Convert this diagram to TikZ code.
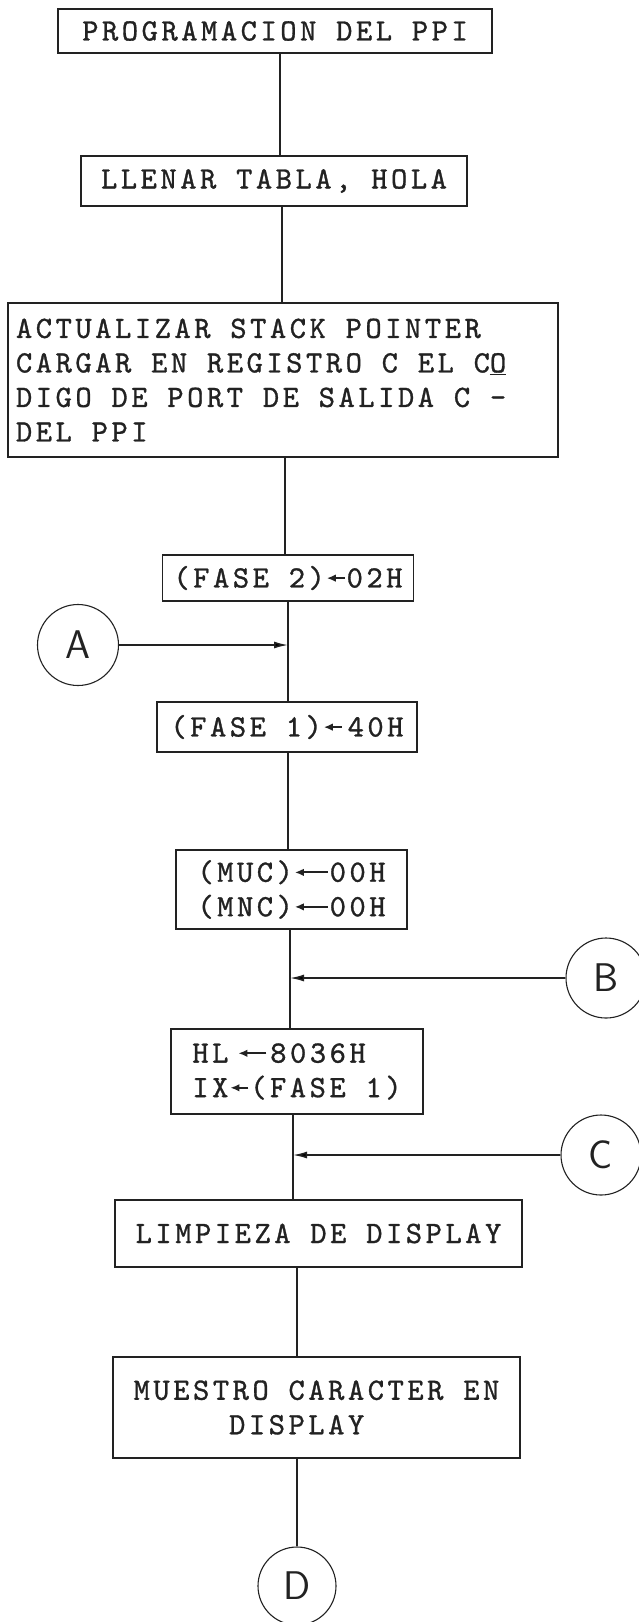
\documentclass[tikz,border=0pt]{standalone}
\usepackage{fontspec}
\usetikzlibrary{arrows.meta}
\definecolor{tinta}{HTML}{222222}
\newfontfamily\maqfam{lmmono10-regular.otf}[LetterSpace=11.4,FakeBold=1]
\newcommand{\maq}{\maqfam\fontsize{31}{34.5}\selectfont\frenchspacing\spaceskip=19.8pt\relax}
\newcommand{\flecha}[1][18pt]{\hspace{1pt}\tikz[baseline=-0.7ex]\draw[tinta,line width=1.8pt,-{Latex[length=9pt,width=7.5pt]}] (#1,0) -- (0,0);\hspace{1pt}}
\tikzset{
  caja/.style={draw=tinta, text=tinta, line width=1.6pt, inner sep=0pt,
               align=left, font=\maq, execute at begin node={\spaceskip=19.8pt\relax}},
  conector/.style={draw=tinta, text=tinta, circle, line width=1.1pt, inner sep=0pt,
                   minimum size=80pt, font=\sffamily\fontsize{40}{40}\selectfont},
  linea/.style={draw=tinta, line width=1.5pt},
  entrada/.style={linea, -{Latex[length=14pt,width=7pt]}}
}

\begin{document}
\begin{tikzpicture}[x=1pt,y=1pt]
  \useasboundingbox[fill=white] (0,0) rectangle (639,-1622);

  % cajas
  \node[caja,minimum width=434pt,minimum height=44pt] (prog) at (275,-31) {PROGRAMACION DEL PPI};
  \node[caja,minimum width=386pt,minimum height=50pt] (tabla) at (274,-181) {LLENAR TABLA, HOLA};
  \node[caja,text width=534pt,inner xsep=8pt,minimum height=154pt] (stack) at (283,-380)
    {ACTUALIZAR STACK POINTER\\CARGAR EN REGISTRO C EL C\underline{O}\\DIGO DE PORT DE SALIDA C -\\DEL PPI};
  \node[caja,minimum width=251pt,minimum height=46pt] (fase2) at (288,-578) {(FASE 2)\flecha 02H};
  \node[caja,minimum width=260pt,minimum height=50pt] (fase1) at (287,-727) {(FASE 1)\flecha\hspace{4pt}40H};
  \node[caja,minimum width=231pt,minimum height=79pt] (muc) at (291.5,-889.5)
    {(MUC)\flecha[33pt]00H\\(MNC)\flecha[33pt]00H};
  \node[caja,minimum width=252pt,minimum height=85pt] (hl) at (297,-1071.5)
    {HL\hspace{8pt}\flecha[28pt]\hspace{2pt}8036H\\IX\flecha(FASE 1)};
  \node[caja,minimum width=407pt,minimum height=67pt] (limp) at (318.5,-1233.5) {LIMPIEZA DE DISPLAY};
  \node[caja,minimum width=407pt,minimum height=101pt] (muestro) at (316.5,-1407.5)
    {MUESTRO CARACTER EN\\\phantom{MUEST}DISPLAY};

  % conectores
  \node[conector,minimum size=81pt] (conA) at (78,-645) {A};
  \node[conector] (conB) at (606,-978) {B};
  \node[conector] (conC) at (601,-1155) {C};
  \node[conector,minimum size=78pt] (conD) at (297,-1586) {D};

  % tronco
  \draw[linea] ([xshift=5pt]prog.south) -- ([xshift=5pt]prog.south |- tabla.north);
  \draw[linea] ([xshift=8pt]tabla.south) -- ([xshift=8pt]tabla.south |- stack.north);
  \draw[linea] ([xshift=2pt]stack.south) -- ([xshift=2pt]stack.south |- fase2.north);
  \draw[linea] (fase2.south) -- (fase2.south |- fase1.north);
  \draw[linea] ([xshift=1pt]fase1.south) -- ([xshift=1pt]fase1.south |- muc.north);
  \draw[linea] ([xshift=-1.5pt]muc.south) -- ([xshift=-1.5pt]muc.south |- hl.north);
  \draw[linea] ([xshift=-4pt]hl.south) -- ([xshift=-4pt]hl.south |- limp.north);
  \draw[linea] (limp.south -| conD) -- (muestro.north -| conD);
  \draw[linea] (muestro.south -| conD) -- (conD.north);

  % entradas
  \draw[entrada] (conA.east) -- (conA.east -| fase2.south);
  \draw[entrada] (conB.west) -- ([xshift=-1.5pt]muc.south |- conB.west);
  \draw[entrada] (conC.west) -- ([xshift=-4pt]hl.south |- conC.west);
\end{tikzpicture}
\end{document}
